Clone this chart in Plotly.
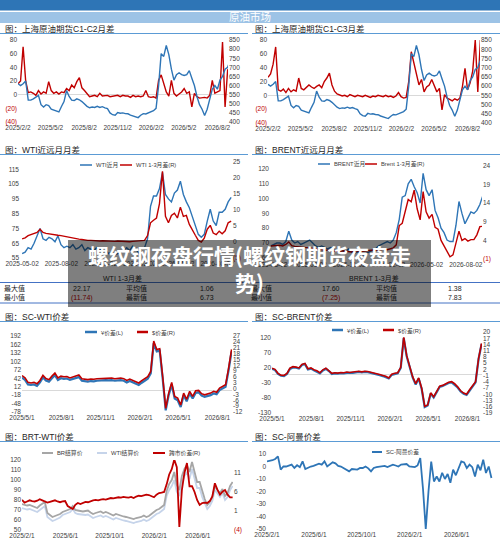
import pandas as pd
import plotly.graph_objects as go

W, H = 500, 548

# ---------------- data (weekly readings) ----------------
sc_start = "2025-02-02"
sc_price = [610, 600, 610, 625, 520, 520, 527, 535, 546, 495,
            482, 495, 490, 470, 464, 458, 455, 485, 512, 573,
            540, 520, 518, 527, 522, 512, 498, 486, 478, 482,
            480, 486, 480, 484, 478, 473, 450, 440, 437, 452,
            448, 450, 446, 445, 438, 432, 428, 424, 437, 446,
            444, 450, 455, 462, 475, 600, 775, 760, 820, 770,
            690, 630, 660, 670, 660, 655, 660, 682, 640, 600,
            540, 495, 470, 436, 470, 530, 580, 600, 580, 630,
            650, 690, 700, 740]
c1c2 = [16, 20, 70, 20, 3, 4, 2, -1, 6, 1,
        4, 2, 19, 6, 2, 4, 1, 4, 3, 9,
        6, 14, 10, 19, 25, 10, 6, 1, -3, -2,
        -1, -3, 2, -2, -1, -1, -3, -2, -1, -1,
        -3, -1, -2, -2, -4, -1, -3, -2, -3, -2,
        6, -3, -4, -3, -5, 21, 29, 18, 4, -2,
        21, 2, -2, 1, 4, 9, 2, 4, -18, 2,
        -3, -5, -4, -4, -5, -1, 21, 2, 4, 6,
        77, -18, 36, 41]
c1c3 = [26, 31, 45, 70, 8, 6, 9, 4, 10, 5,
        8, 6, 25, 10, 8, 12, 15, 12, 10, 13,
        15, 11, 20, 25, 32, 15, 6, 2, 1, -1,
        0, -2, 1, -1, -2, 0, -1, -2, 0, -1,
        -3, -1, -2, 0, -1, -2, 0, -2, -1, -3,
        -1, 4, -2, -4, -3, 20, 63, 48, 30, 15,
        23, 5, 12, 15, 23, 13, 5, 10, -21, 1,
        -4, -6, -8, -5, -7, -4, 13, 39, 8, 18,
        35, 80, 5, 80]

nr_start = "2025-05-02"
wti_near = [58, 59, 62, 61, 65, 70, 75, 68, 67, 69,
            68, 66, 70, 64, 62, 63, 62, 64, 61, 62,
            64, 60, 62, 61, 60, 62, 61, 59, 60, 58,
            59, 57, 58, 59, 60, 62, 60, 63, 62, 58,
            62, 62, 68, 90, 97, 97, 102, 113, 98, 95,
            93, 99, 101, 107, 98, 93, 89, 83, 77, 71,
            69, 71, 80, 88, 80, 77, 86, 86, 88, 93,
            96]
wti_spread = [1.0, 1.3, 2.0, 2.3, 2.6, 3.0, 4.0, 3.0, 2.7, 2.5,
              2.4, 2.3, 2.1, 2.0, 1.8, 1.6, 1.3, 1.1, 1.0, 0.9,
              0.8, 0.6, 0.5, 0.5, 0.4, 0.5, 0.3, 0.4, 0.3, 0.2,
              0.3, 0.2, 0.3, 0.2, 0.3, 0.2, 0.1, 0.2, 0.3, 0.2,
              0.4, 0.5, 2.0, 6.0, 6.8, 7.5, 12.0, 22.1, 8.0, 6.0,
              8.3, 9.0, 7.5, 10.9, 8.0, 8.3, 5.5, 4.0, 2.1, 0.5,
              0.0, 1.2, 4.0, 5.2, 2.8, 2.3, 3.4, 2.6, 3.5, 6.0,
              6.5]
brent_near = [68, 69, 70, 70, 69, 71, 78, 72, 70, 71,
              69, 70, 71, 72, 70, 68, 67, 68, 67, 66,
              67, 66, 65, 66, 65, 64, 66, 64, 63, 64,
              63, 62, 63, 64, 65, 66, 68, 69, 70, 71,
              70, 72, 77, 86, 101, 102, 110, 113, 108, 104,
              97, 117, 106, 102, 106, 92, 87, 80, 77, 72,
              71, 71, 82, 98, 90, 83, 87, 91, 90, 92,
              96, 102]
brent_spread = [2.5, 2.6, 2.8, 2.7, 2.5, 2.9, 3.6, 2.6, 2.4, 2.3,
                2.2, 2.3, 2.1, 2.0, 1.9, 1.8, 1.6, 1.5, 1.4, 1.3,
                1.2, 1.3, 1.1, 1.0, 1.2, 1.1, 1.0, 0.9, 1.1, 1.2,
                1.0, 1.1, 1.3, 1.2, 1.4, 1.5, 1.4, 1.6, 1.7, 1.5,
                1.8, 2.0, 2.8, 8.0, 8.6, 11.5, 15.0, 14.4, 17.5, 12.5,
                9.5, 17.1, 11.7, 10.0, 11.0, 7.5, 7.0, 4.0, 2.5, 1.2,
                -0.4, 0.1, 3.0, 6.5, 4.0, 4.5, 3.8, 4.2, 4.2, 5.5,
                7.7, 7.8]

arb_start = "2025-05-01"
sc_wti_cny = [44, 36, 20, 18, 20, 15, 27, 45, 34, 30,
              42, 53, 36, 42, 40, 41, 36, 40, 42, 46,
              33, 31, 30, 32, 31, 33, 34, 33, 35, 34,
              35, 33, 34, 35, 33, 27, 32, 28, 24, 18,
              26, 33, 40, 59, 167, 137, 140, 40, -72, -18,
              20, -30, -36, -60, -18, -40, -12, -30, -10, -8,
              -20, -24, -22, -18, -12, -15, 0, 5, 12, 70,
              137]
sc_wti_usd = [6.7, 5.5, 3.2, 2.9, 3.2, 2.5, 4.2, 6.8, 5.2, 4.6,
              6.4, 8.0, 5.5, 6.4, 6.1, 6.2, 5.5, 6.1, 6.4, 7.0,
              5.1, 4.8, 4.6, 4.9, 4.8, 5.1, 5.2, 5.1, 5.4, 5.2,
              5.4, 5.1, 5.2, 5.4, 5.1, 4.2, 4.9, 4.3, 3.8, 2.9,
              4.1, 5.1, 6.1, 8.8, 24.4, 20.1, 20.5, 6.1, -10.1, -2.3,
              3.2, -4.0, -4.9, -8.4, -2.3, -5.5, -1.4, -4.0, -1.1, -0.9,
              -2.6, -3.2, -2.9, -2.3, -1.4, -1.9, 0.3, 1.0, 2.0, 10.4,
              20.1]
sc_brent_cny = [17, 13, 0, -6, -7, 0, 17, 22, 21, 18,
                30, 33, 15, 18, 12, 8, 2, 12, 17, 10,
                0, 2, 1, 3, 2, 4, 3, 4, 5, 7,
                5, 7, 6, 4, 2, -1, -4, -7, -10, -15,
                -3, 0, 2, 20, 120, 58, 25, -12, -35, -15,
                -50, -110, -105, -65, -78, -58, -43, -40, -35, -30,
                -28, -35, -45, -58, -66, -70, -55, -40, -28, 50,
                100]
sc_brent_usd = [2.6, 2.0, 0.1, -0.8, -0.9, 0.1, 2.6, 3.3, 3.1, 2.7,
                4.4, 4.9, 2.3, 2.7, 1.8, 1.3, 0.4, 1.8, 2.6, 1.5,
                0.1, 0.4, 0.2, 0.5, 0.4, 0.7, 0.5, 0.7, 0.8, 1.1,
                0.8, 1.1, 1.0, 0.7, 0.4, 0.0, -0.5, -0.9, -1.3, -2.1,
                -0.3, 0.1, 0.4, 3.0, 17.4, 8.5, 3.7, -1.6, -4.9, -2.1,
                -7.1, -15.8, -15.1, -9.3, -11.2, -8.3, -6.1, -5.7, -4.9, -4.2,
                -3.9, -4.9, -6.4, -8.3, -9.4, -10.0, -7.8, -5.7, -3.9, 7.3,
                14.5]

cross_start = "2025-02-01"
br_settle = [76, 75, 74.5, 75, 74, 73, 72, 74.5, 76, 78,
             67, 65, 63, 64, 65, 66, 68, 69, 70, 71,
             74, 70, 69.5, 69, 68.5, 69, 69.5, 67.5, 66, 67,
             68, 68.5, 67, 68, 67, 66, 64.5, 66, 65, 64.5,
             63.5, 63, 62.5, 62, 61, 62, 62.5, 63, 64.5, 63,
             64, 66.5, 68, 70, 71, 73, 75, 89, 96, 100,
             108, 95, 90, 104, 111, 115, 108, 118, 107, 98,
             98, 88, 81, 75, 78, 83, 94, 90, 87, 91,
             84, 87, 94, 98]
wti_settle = [72, 71, 70.5, 71, 70, 69, 68, 70, 72, 74,
              63, 61, 59, 60, 61.5, 62.5, 65, 66, 67, 68,
              71, 67, 66, 65.5, 65, 65, 65.5, 63.5, 62, 63,
              64, 64.5, 63, 64, 63, 62, 60.5, 62, 61, 60.5,
              59.5, 59, 58.5, 58, 57, 58, 58.5, 59, 60.5, 59,
              60, 62.5, 64, 66, 67, 69, 71, 84, 90, 94,
              100, 88, 84, 97, 104, 108, 101, 111, 100, 92,
              92, 83, 77, 71, 74, 79, 90, 86, 83, 87,
              80, 83, 90, 94]
brt_wti_spread = [3.9, 3.2, 3.5, 3.8, 3.6, 3.5, 3.7, 4.1, 3.8, 3.6,
                  3.2, 3.4, 3.6, 3.8, 3.5, 3.3, 3.5, 3.6, 2.3, 2.0,
                  1.5, 2.6, 3.1, 2.8, 3.0, 3.4, 3.3, 3.6, 3.8, 3.9,
                  3.8, 4.0, 4.1, 4.0, 4.2, 4.4, 4.3, 4.5, 4.6, 4.5,
                  4.7, 4.6, 4.5, 4.7, 4.4, 4.8, 5.0, 4.9, 5.1, 5.3,
                  5.2, 5.0, 4.6, 5.3, 5.7, 5.8, 6.0, 8.0, 10.6, 12.0,
                  14.5, 12.5, -3.2, 6.5, 11.0, 13.6, 7.5, 7.5, 6.0, 3.9,
                  2.6, 3.1, 3.2, 3.1, 3.6, 4.8, 8.3, 6.6, 5.3, 6.1,
                  6.5, 5.3, 4.6, 4.6]
sc_oman = [4.1, 4.5, 5.0, 6.0, 8.1, -2.5, 0.1, 0.0, 0.5, 1.5,
           -1.2, 1.0, -0.5, 4.1, -2.0, -0.8, 0.0, 0.5, 1.2, 2.3,
           1.5, 4.1, 0.0, 1.5, 3.3, 2.5, 0.5, 0.0, -1.2, -2.5,
           -3.9, -2.0, -2.5, -2.5, -1.2, -1.2, 0.0, -1.5, -3.9, -1.2,
           -0.5, 0.0, 0.3, 0.5, -0.5, 0.5, 1.5, 0.8, 0.0, 1.5,
           2.0, 2.0, 0.0, -0.5, -0.5, 0.8, 6.8, -18, -50, -20,
           4.0, -12, -8, -12, -5, -10, -6, -13, -2.5, -7,
           -1.0, 4.1, 3.3, -1.2, 1.5, -0.5, -8.0, 1.5, -3.0, 5.5,
           -5.2, 0.0, -9.2]

# table values
wti_tbl = ["22.17", "(11.74)", "1.06", "6.73"]
brent_tbl = ["17.60", "(7.25)", "1.38", "7.83"]


def weeks(start, n):
    return pd.date_range(start, periods=n, freq="7D")


# ---------------- style ----------------
FONT = "Liberation Sans, Noto Sans CJK SC, sans-serif"
BLUE = "#2E75B6"
RED = "#C00000"
GRAY = "#A6A6A6"
LIGHT = "#C6D4EA"
LINE = "#5B9BD5"
TICK = dict(size=6.5, color="#404040", family=FONT)


def red(t):
    return f"<span style='color:{RED}'>{t}</span>"


def px_x(a, b):
    return [a / W, b / W]


def px_y(top, bottom):
    return [1 - bottom / H, 1 - top / H]


def axname(k, n):
    return f"{k}axis" if n == 1 else f"{k}axis{n}"


def axref(k, n):
    return k if n == 1 else f"{k}{n}"


fig = go.Figure()
axes = {}


def panel(p, xs, ys, xrange, xticks, left, right=None, zero=False):
    ly, ry = 2 * p - 1, 2 * p
    axes[axname("x", p)] = dict(
        domain=px_x(*xs), anchor=axref("y", ly), range=xrange,
        tickvals=[t[0] for t in xticks], ticktext=[t[1] for t in xticks],
        showgrid=False, zeroline=False, showline=False, ticks="",
        tickangle=0, tickfont=TICK, fixedrange=True, automargin=False)
    axes[axname("y", ly)] = dict(
        domain=px_y(*ys), anchor=axref("x", p), range=left[0],
        tickvals=left[1], ticktext=left[2], showgrid=False,
        zeroline=zero, zerolinecolor="#D9D9D9", zerolinewidth=1,
        showline=False, ticks="", tickfont=TICK, fixedrange=True,
        automargin=False)
    if right:
        axes[axname("y", ry)] = dict(
            overlaying=axref("y", ly), side="right", anchor=axref("x", p),
            range=right[0], tickvals=right[1], ticktext=right[2],
            showgrid=False, zeroline=False, showline=False, ticks="",
            tickfont=TICK, fixedrange=True, automargin=False)


def line(p, x, y, color, width, right=False):
    yi = 2 * p if right else 2 * p - 1
    fig.add_trace(go.Scatter(
        x=x, y=y, mode="lines", line=dict(color=color, width=width),
        xaxis=axref("x", p), yaxis=axref("y", yi), showlegend=False,
        hoverinfo="skip"))


def ticks_of(dates, fmt):
    return [(d, fmt(d)) for d in dates]


slash = lambda d: "{}/{}/{}".format(*[int(v) for v in d.split("-")])
q_dates = ["2025-02-02", "2025-05-02", "2025-08-02", "2025-11-02",
           "2026-02-02", "2026-05-02", "2026-08-02"]
q_ticks = ticks_of(q_dates, slash)
nr_ticks = ticks_of(q_dates[1:], lambda d: d)
m_ticks = ticks_of(["2025-05-01", "2025-08-01", "2025-11-01", "2026-02-01",
                    "2026-05-01", "2026-08-01"], slash)
c_ticks = ticks_of(["2025-02-01", "2025-06-01", "2025-10-01", "2026-02-01",
                    "2026-06-01"], slash)

c_left = ([-40, 80], [-40, -20, 0, 20, 40, 60, 80],
          [red("(40)"), red("(20)"), "0", "20", "40", "60", "80"])
c_right = ([400, 850], list(range(400, 851, 50)),
           [str(v) for v in range(400, 851, 50)])

# row 1
panel(1, (18, 228), (40, 122), ["2025-02-02", "2026-08-31"], q_ticks,
      c_left, c_right, zero=True)
panel(2, (268, 480), (40, 123), ["2025-02-02", "2026-09-05"], q_ticks,
      c_left, c_right, zero=True)
d = weeks(sc_start, len(sc_price))
line(1, d, sc_price, BLUE, 1.4, right=True)
line(1, d, c1c2, RED, 1.4)
line(2, d, sc_price, BLUE, 1.4, right=True)
line(2, d, c1c3, RED, 1.4)

# row 2
panel(3, (20, 232), (162, 258), ["2025-04-27", "2026-09-06"], nr_ticks,
      ([55, 120], list(range(55, 116, 10)), [str(v) for v in range(55, 116, 10)]),
      ([-5, 25], list(range(-5, 26, 5)), [red("(5)")] + [str(v) for v in range(0, 26, 5)]))
panel(4, (270, 482), (166, 259), ["2025-04-30", "2026-09-09"], nr_ticks,
      ([59.2, 122], list(range(60, 121, 10)), [str(v) for v in range(60, 121, 10)]),
      ([-1, 24], list(range(-1, 25, 5)), [red("(1)")] + [str(v) for v in range(4, 25, 5)]))
d = weeks(nr_start, len(wti_near))
line(3, d, wti_near, BLUE, 1.4)
line(3, d, wti_spread, RED, 1.4, right=True)
d = weeks(nr_start, len(brent_near))
line(4, d, brent_near, BLUE, 1.4)
line(4, d, brent_spread, RED, 1.4, right=True)

# row 3
panel(5, (22, 232), (336, 412), ["2025-05-01", "2026-09-04"], m_ticks,
      ([-78, 192], list(range(-78, 193, 30)), [str(v) for v in range(-78, 193, 30)]),
      ([-12, 27], list(range(-12, 28, 3)), [str(v) for v in range(-12, 28, 3)]),
      zero=True)
panel(6, (272, 482), (332, 413), ["2025-05-01", "2026-09-04"], m_ticks,
      ([-130, 140], list(range(-130, 121, 50)), [str(v) for v in range(-130, 121, 50)]),
      ([-19, 20], list(range(-19, 21, 3)), [str(v) for v in range(-19, 21, 3)]),
      zero=True)
d = weeks(arb_start, len(sc_wti_cny))
line(5, d, sc_wti_cny, BLUE, 2.2)
line(5, d, sc_wti_usd, RED, 1.6, right=True)
d = weeks(arb_start, len(sc_brent_cny))
line(6, d, sc_brent_cny, BLUE, 2.2)
line(6, d, sc_brent_usd, RED, 1.6, right=True)

# row 4
panel(7, (22, 233), (460, 530), ["2025-02-01", "2026-09-06"], c_ticks,
      ([50, 120], list(range(50, 121, 10)), [str(v) for v in range(50, 121, 10)]),
      ([-4, 14.4], [-4, 1, 6, 11], [red("(4)"), "1", "6", "11"]))
panel(8, (267, 493), (454, 529), ["2025-02-01", "2026-09-02"], c_ticks,
      ([-50, 10], list(range(-50, 11, 10)), [str(v) for v in range(-50, 11, 10)]))
d = weeks(cross_start, len(br_settle))
line(7, d, wti_settle, LIGHT, 1.8)
line(7, d, br_settle, GRAY, 1.8)
line(7, d, brt_wti_spread, RED, 1.8, right=True)
line(8, weeks(cross_start, len(sc_oman)), sc_oman, BLUE, 1.8)

# ---------------- decorations ----------------
shapes = []
annos = []


def rect(x0, y0, x1, y1, color):
    shapes.append(dict(type="rect", xref="paper", yref="paper",
                       x0=x0 / W, x1=x1 / W, y0=1 - y1 / H, y1=1 - y0 / H,
                       fillcolor=color, line=dict(width=0), layer="below"))


def hline(x0, x1, y, color=LINE, width=1):
    shapes.append(dict(type="line", xref="paper", yref="paper",
                       x0=x0 / W, x1=x1 / W, y0=1 - y / H, y1=1 - y / H,
                       line=dict(color=color, width=width)))


def text(x, y, s, size=6.5, color="#404040", anchor="left"):
    annos.append(dict(x=x / W, y=1 - y / H, xref="paper", yref="paper",
                      text=s, showarrow=False, xanchor=anchor, yanchor="middle",
                      font=dict(size=size, color=color, family=FONT)))


rect(0, 0, 500, 10.5, "#2E75B6")
rect(0, 12, 500, 23, "#9DC3E6")
text(250, 17.5, "原油市场", size=10.5, color="white", anchor="center")

titles = [(3, 29, "图：上海原油期货C1-C2月差"), (253, 29, "图：上海原油期货C1-C3月差"),
          (3, 150, "图：WTI近远月月差"), (253, 150, "图：BRENT近远月月差"),
          (3, 317, "图：SC-WTI价差"), (253, 317, "图：SC-BRENT价差"),
          (3, 437, "图：BRT-WTI价差"), (253, 437, "图：SC-阿曼价差")]
for x, y, s in titles:
    text(x, y, s, size=8.5, color="#262626")
for y in (33.5, 154.5, 321.5, 441.5):
    hline(0, 248, y)
    hline(252, 500, y)

# legends
legends = [
    (80, 92, 165, BLUE, 1.5, "WTI近月"), (120, 132, 165, RED, 1.5, "WTI 1-3月差(R)"),
    (318, 330, 164, BLUE, 1.5, "BRENT近月"), (365, 377, 164, RED, 1.5, "Brent 1-3月差(R)"),
    (85, 97, 332, BLUE, 2.5, "¥价差(L)"), (137, 148, 332, RED, 2.5, "$价差(R)"),
    (332, 343, 330, BLUE, 2.5, "¥价差(L)"), (383, 394, 330, RED, 2.5, "$价差(R)"),
    (42, 53, 453, GRAY, 2, "BR结算价"), (97, 107, 453, LIGHT, 2, "WTI结算价"),
    (153, 165, 453, RED, 2, "跨市价差(R)"),
    (372, 382, 452, BLUE, 2, "SC-阿曼价差"),
]
for x0, x1, y, c, w, s in legends:
    hline(x0, x1, y, color=c, width=w)
    text(x1 + 1.5, y, s, size=5.8)

# statistics tables
text(122, 278, "WTI 1-3月差", size=7, color="#262626", anchor="center")
text(374, 278, "BRENT 1-3月差", size=7, color="#262626", anchor="center")
hline(0, 500, 282.5, color="#4472C4", width=1)
hline(0, 500, 303, color="#4472C4", width=1)
for y, lab1, lab2, i, j in ((288, "最大值", "平均值", 0, 2), (298, "最小值", "最新值", 1, 3)):
    c1 = RED if wti_tbl[i].startswith("(") else "#262626"
    c2 = RED if brent_tbl[i].startswith("(") else "#262626"
    text(2, y, lab1, size=7, color="#262626")
    text(82, y, wti_tbl[i], size=7, color=c1, anchor="center")
    text(136, y, lab2, size=7, color="#262626", anchor="center")
    text(207, y, wti_tbl[j], size=7, color="#262626", anchor="center")
    text(261, y, lab1, size=7, color="#262626", anchor="center")
    text(331, y, brent_tbl[i], size=7, color=c2, anchor="center")
    text(386, y, lab2, size=7, color="#262626", anchor="center")
    text(455, y, brent_tbl[j], size=7, color="#262626", anchor="center")

# banner overlay
annos.append(dict(
    x=249.5 / W, y=1 - 273.5 / H, xref="paper", yref="paper",
    text="<b>螺纹钢夜盘行情(螺纹钢期货夜盘走<br>势)</b>", showarrow=False,
    xanchor="center", yanchor="middle", width=363, height=67,
    bgcolor="rgba(0,0,0,0.5)", borderpad=0, borderwidth=0,
    align="center", valign="top",
    font=dict(size=21, color="white", family="Noto Sans CJK SC")))

fig.update_layout(
    width=W, height=H, autosize=False,
    margin=dict(l=0, r=0, t=0, b=0, pad=0, autoexpand=False),
    paper_bgcolor="white", plot_bgcolor="white",
    font=dict(family=FONT, color="#404040"),
    showlegend=False, shapes=shapes, annotations=annos,
    **axes)

# the page's default body margin would push the figure 8px off the corner
fig.write_html("out.html", config={"displayModeBar": False},
               post_script="document.body.style.margin='0';")
